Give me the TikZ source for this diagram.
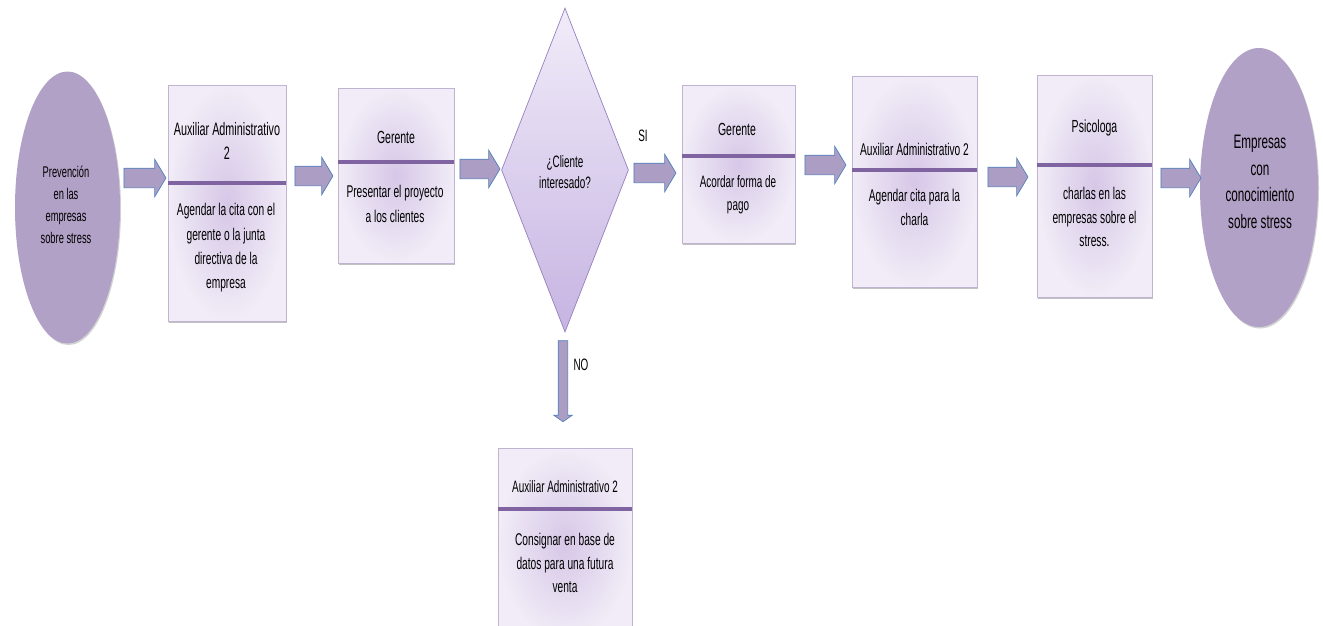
\documentclass[tikz,border=0pt]{standalone}
\usepackage{fontspec}
\setmainfont{Liberation Sans}[FakeStretch=0.6]
\usetikzlibrary{shapes.geometric,shapes.arrows,shadows}
\definecolor{ellfill}{RGB}{178,161,199}
\definecolor{boxedge}{RGB}{192,180,208}
\definecolor{boxin}{RGB}{214,199,231}
\definecolor{boxout}{RGB}{241,236,247}
\definecolor{divline}{RGB}{128,100,162}
\definecolor{arrfill}{RGB}{172,157,196}
\definecolor{arredge}{RGB}{79,129,189}
\definecolor{diatop}{RGB}{241,236,249}
\definecolor{diabot}{RGB}{198,180,226}
\definecolor{diaedge}{RGB}{150,128,190}
\tikzset{
  procbox/.style={rectangle, draw=boxedge, line width=0.8pt, inner color=boxin, outer color=boxout,
    drop shadow={shadow xshift=1.2pt, shadow yshift=-1.8pt, opacity=0.35, fill=black!70}},
  endell/.style={ellipse, fill=ellfill, draw=none,
    drop shadow={shadow xshift=1pt, shadow yshift=-1.5pt, opacity=0.25, fill=black!70}},
  decide/.style={diamond, draw=diaedge, line width=0.7pt, top color=diatop, bottom color=diabot, inner sep=0pt},
  divider/.style={draw=divline, line width=3.5pt},
  blockarrow/.style={single arrow, draw=arredge, fill=arrfill, line width=0.7pt, inner xsep=0pt, inner ysep=9.5pt,
    minimum width=37pt, single arrow head extend=9pt, single arrow tip angle=118},
  downarrow/.style={single arrow, draw=arredge, fill=arrfill, line width=0.7pt, inner xsep=0pt, inner ysep=4.5pt,
    minimum width=18pt, single arrow head extend=4.5pt, single arrow tip angle=110, rotate=-90},
  lab/.style={align=center, text=black, inner sep=0pt},
}
\begin{document}
\begin{tikzpicture}[x=1pt,y=-1pt]
\useasboundingbox (0,0) rectangle (1323,625);
\clip (0,0) rectangle (1323,625);
% start / end ellipses
\node[endell, minimum width=105pt, minimum height=272pt] (e1) at (67.5,207.5) {};
\node[lab, font=\fontsize{15.5}{22}\selectfont] (e1t) at (66,205) {Prevención\\en las\\empresas\\sobre stress};
\node[endell, minimum width=118pt, minimum height=279pt] (e2) at (1259,187.5) {};
\node[lab, font=\fontsize{19.5}{26.5}\selectfont] (e2t) at (1260,182) {Empresas\\con\\conocimiento\\sobre stress};
% process boxes
\node[procbox, minimum width=118pt, minimum height=236pt] (b1) at (227,203) {};
\node[procbox, minimum width=116pt, minimum height=175pt] (b2) at (396,175.5) {};
\node[procbox, minimum width=113pt, minimum height=158pt] (b4) at (738.5,164) {};
\node[procbox, minimum width=125pt, minimum height=211pt] (b5) at (914.5,181.5) {};
\node[procbox, minimum width=115pt, minimum height=222pt] (b6) at (1094.5,186) {};
\node[procbox, minimum width=134pt, minimum height=192pt] (b7) at (565,544) {};
% dividers
\coordinate (d1) at (0,183);
\coordinate (d2) at (0,162);
\coordinate (d4) at (0,156);
\coordinate (d5) at (0,170);
\coordinate (d6) at (0,165);
\coordinate (d7) at (0,509);
\draw[divider] (b1.west |- d1) -- (b1.east |- d1);
\draw[divider] (b2.west |- d2) -- (b2.east |- d2);
\draw[divider] (b4.west |- d4) -- (b4.east |- d4);
\draw[divider] (b5.west |- d5) -- (b5.east |- d5);
\draw[divider] (b6.west |- d6) -- (b6.east |- d6);
\draw[divider] (b7.west |- d7) -- (b7.east |- d7);
% box texts
\node[lab, font=\fontsize{18}{24}\selectfont] (b1h) at (227,141) {Auxiliar Administrativo\\2};
\node[lab, font=\fontsize{17}{24.3}\selectfont] (b1b) at (226,248) {Agendar la cita con el\\gerente o la junta\\directiva de la\\empresa};
\node[lab, font=\fontsize{17.5}{24}\selectfont] (b2h) at (396,137) {Gerente};
\node[lab, font=\fontsize{17}{25}\selectfont] (b2b) at (395,204) {Presentar el proyecto\\a los clientes};
\node[lab, font=\fontsize{17.5}{24}\selectfont] (b4h) at (737,129) {Gerente};
\node[lab, font=\fontsize{16.5}{23}\selectfont] (b4b) at (738,195) {Acordar forma de\\pago};
\node[lab, font=\fontsize{17}{23}\selectfont] (b5h) at (914.5,149) {Auxiliar Administrativo 2};
\node[lab, font=\fontsize{17}{24}\selectfont] (b5b) at (914.5,207) {Agendar cita para la\\charla};
\node[lab, font=\fontsize{17.5}{24}\selectfont] (b6h) at (1094.5,128) {Psicologa};
\node[lab, font=\fontsize{17}{23.5}\selectfont] (b6b) at (1094.5,217) {charlas en las\\empresas sobre el\\stress.};
\node[lab, font=\fontsize{16.5}{23}\selectfont] (b7h) at (565,487) {Auxiliar Administrativo 2};
\node[lab, font=\fontsize{17}{23.5}\selectfont] (b7b) at (565,563) {Consignar en base de\\datos para una futura\\venta};
% decision
\node[decide, minimum width=127pt, minimum height=324pt] (dec) at (565,170) {};
\node[lab, font=\fontsize{16.5}{21}\selectfont] (dect) at (565,172) {¿Cliente\\interesado?};
% block arrows
\node[blockarrow, minimum height=42pt] (a1) at (142,178) {};
\node[blockarrow, minimum height=38pt] (a2) at (311,176) {};
\node[blockarrow, minimum height=40pt] (a3) at (477,169) {};
\node[blockarrow, minimum height=42pt] (a4) at (652,173) {};
\node[blockarrow, minimum height=41pt] (a5) at (822.5,165) {};
\node[blockarrow, minimum height=40pt] (a6) at (1005,177) {};
\node[blockarrow, minimum height=40pt] (a7) at (1178,178) {};
\node[downarrow, minimum height=81pt] (a8) at (563,379.5) {};
% branch labels
\node[lab, font=\fontsize{16.5}{18}\selectfont] (si) at (643,136) {SI};
\node[lab, font=\fontsize{16.5}{18}\selectfont] (no) at (581,365) {NO};
\end{tikzpicture}
\end{document}
